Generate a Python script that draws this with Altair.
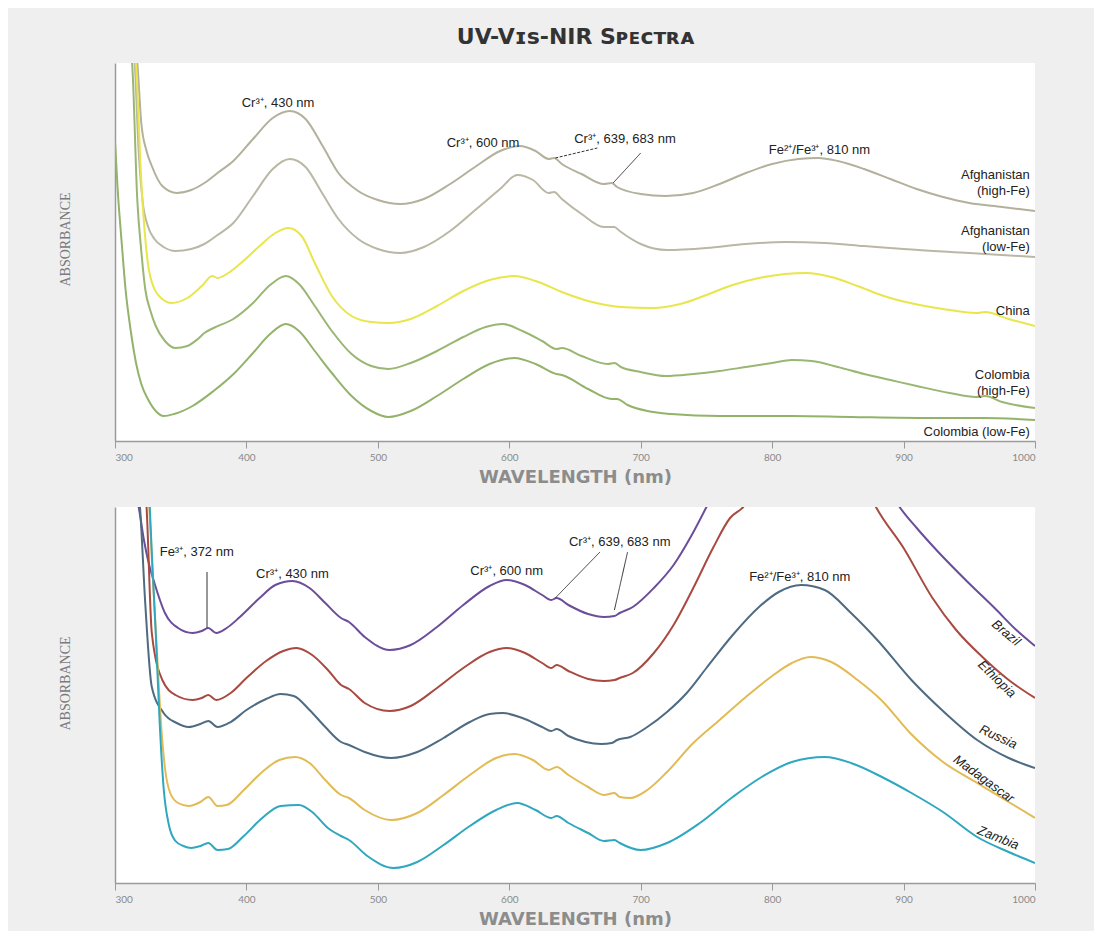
import altair as alt
import pandas as pd

TICKS = [300, 400, 500, 600, 700, 800, 900, 1000]

# ---------------- top panel (relative absorbance, arbitrary units) ----------------
TOP_NAMES = ["Afghanistan (high-Fe)", "Afghanistan (low-Fe)", "China",
             "Colombia (high-Fe)", "Colombia (low-Fe)"]
TOP_COLORS = ["#b3b19b", "#bab8a4", "#e8e64c", "#9ab673", "#93b36a"]

AHF_WL = [312, 317, 320, 324, 328, 336, 347, 358, 368, 378, 390, 405, 420, 433, 445, 458, 470, 485, 500, 517,
          535, 555, 575, 593, 608, 620, 630, 634, 640, 655, 672, 678, 682, 700, 719, 740, 760, 780, 800, 820,
          835, 850, 870, 890, 910, 930, 950, 975, 1000]
AHF_AB = [420, 378, 318, 290, 275, 255, 248, 251, 258, 268, 280, 302, 323, 330, 322, 295, 268, 250, 241, 237,
          242, 257, 275, 290, 295, 290, 282, 283, 277, 267, 257, 258, 254, 247, 245, 248, 257, 268, 277, 282,
          283, 280, 272, 262, 252, 244, 238, 234, 230]

ALF_WL = [312, 315, 318, 321, 325, 330, 337, 346, 358, 368, 378, 390, 405, 420, 433, 445, 458, 470, 485, 500,
          517, 535, 555, 575, 593, 606, 618, 630, 634, 640, 655, 672, 680, 684, 700, 720, 750, 780, 810, 840,
          870, 900, 950, 1000]
ALF_AB = [420, 378, 290, 240, 215, 202, 194, 190, 192, 197, 206, 218, 245, 272, 282, 274, 247, 222, 202, 192,
          188, 194, 210, 232, 252, 266, 261, 248, 249, 242, 227, 214, 214, 210, 197, 191, 193, 197, 199, 198,
          195, 192, 188, 184]

CH_WL = [312, 316, 320, 325, 330, 336, 343, 355, 366, 374, 378, 385, 395, 410, 422, 432, 442, 452, 465, 480,
         495, 508, 525, 545, 565, 585, 604, 620, 640, 660, 685, 709, 730, 750, 770, 790, 810, 826, 845, 865,
         885, 905, 930, 956, 962, 980, 1000]
CH_AB = [420, 378, 260, 178, 152, 142, 138, 143, 155, 165, 163, 167, 177, 195, 208, 213, 205, 178, 145, 125,
         119, 118, 122, 135, 150, 161, 165, 160, 149, 140, 134, 133, 137, 146, 156, 163, 167, 168, 164, 155,
         145, 138, 132, 128, 129, 122, 115]

CHF_WL = [308, 313, 317, 320, 323, 327, 331, 338, 346, 355, 363, 368, 375, 390, 405, 418, 430, 440, 452, 465,
          480, 495, 508, 525, 545, 565, 582, 595, 610, 625, 636, 640, 655, 675, 680, 685, 700, 719, 740, 760,
          780, 800, 815, 830, 850, 870, 890, 910, 935, 955, 962, 975, 1000]
CHF_AB = [420, 378, 240, 190, 152, 130, 115, 100, 93, 95, 102, 108, 113, 122, 138, 156, 165, 157, 135, 110,
          87, 75, 72, 78, 90, 104, 114, 117, 110, 100, 92, 93, 85, 77, 78, 74, 69, 65, 67, 70,
          74, 78, 81, 80, 74, 67, 61, 55, 48, 44, 45, 39, 33]

CLF_WL = [300, 302, 305, 308, 312, 316, 320, 325, 331, 337, 345, 359, 375, 391, 405, 418, 430, 440, 452, 465,
          480, 495, 508, 525, 545, 565, 585, 604, 620, 636, 640, 660, 678, 682, 690, 705, 723, 760, 815, 860,
          920, 960, 1000]
CLF_AB = [300, 252, 200, 152, 110, 78, 57, 42, 30, 25, 27, 35, 50, 68, 88, 107, 117, 110, 90, 68,
          45, 30, 24, 30, 45, 62, 77, 83, 77, 67, 66, 52, 42, 42, 36, 30, 27, 25, 25, 24,
          23, 23, 21]

TOP_WL = [AHF_WL, ALF_WL, CH_WL, CHF_WL, CLF_WL]
TOP_AB = [AHF_AB, ALF_AB, CH_AB, CHF_AB, CLF_AB]

TOP_NOTE_TEXT = ["Cr³⁺, 430 nm", "Cr³⁺, 600 nm", "Cr³⁺, 639, 683 nm", "Fe²⁺/Fe³⁺, 810 nm"]
TOP_NOTE_WL = [424, 580, 688, 836]
TOP_NOTE_AB = [338, 298, 302, 291]

TOP_LEAD_WL = [635, 679]
TOP_LEAD_AB = [283, 258]
TOP_LEAD_WL2 = [667, 700]
TOP_LEAD_AB2 = [293, 288]
TOP_LEAD_DASH = ["dash", "solid"]

TOP_LABEL_TEXT = ["Afghanistan", "(high-Fe)", "Afghanistan", "(low-Fe)", "China",
                  "Colombia", "(high-Fe)", "Colombia (low-Fe)"]
TOP_LABEL_WL = [996, 996, 996, 996, 996, 996, 996, 996]
TOP_LABEL_AB = [266, 250, 210, 194, 130, 66, 50, 9]

# ---------------- bottom panel ----------------
BOT_NAMES = ["Brazil", "Ethiopia", "Russia", "Madagascar", "Zambia"]
BOT_COLORS = ["#6b4d9a", "#a84a40", "#4f6b82", "#e2bb55", "#2ea7bf"]

BR_WL = [313, 318, 322, 326, 330, 338, 348, 359, 366, 371, 377, 385, 395, 410, 422, 435, 448, 460, 472, 478,
         490, 509, 525, 545, 565, 585, 598, 612, 625, 632, 636, 645, 660, 672, 680, 684, 694, 710, 725, 738,
         750, 760, 800, 840, 875, 885, 897, 910, 925, 948, 970, 985, 1000]
BR_AB = [400, 376, 343, 318, 300, 270, 255, 250, 252, 255, 250, 255, 266, 285, 298, 302, 295, 280, 265, 261,
         246, 233, 238, 256, 278, 297, 303, 298, 288, 283, 285, 278, 269, 266, 267, 270, 276, 295, 318, 346,
         376, 403, 470, 480, 440, 403, 376, 355, 333, 302, 274, 254, 237]

ET_WL = [320, 324, 328, 336, 346, 359, 366, 371, 377, 388, 400, 415, 428, 438, 450, 462, 472, 478, 490, 509,
         525, 545, 565, 585, 598, 612, 625, 632, 636, 645, 660, 672, 680, 684, 694, 710, 725, 740, 755, 768,
         778, 790, 830, 870, 879, 900, 922, 940, 960, 980, 1000]
ET_AB = [420, 376, 250, 203, 188, 183, 185, 188, 183, 190, 205, 222, 232, 235, 228, 213, 198, 194, 180, 172,
         177, 195, 215, 231, 235, 230, 220, 215, 218, 212, 204, 202, 203, 205, 210, 230, 258, 295, 335, 365,
         376, 400, 430, 400, 376, 335, 285, 253, 226, 203, 185]

RU_WL = [314, 319, 323, 328, 337, 347, 356, 365, 371, 378, 388, 400, 415, 426, 436, 448, 460, 472, 478, 490,
         510, 530, 550, 570, 585, 595, 610, 625, 632, 636, 645, 658, 670, 678, 682, 692, 705, 720, 735, 750,
         770, 790, 805, 822, 840, 860, 880, 906, 930, 956, 980, 1000]
RU_AB = [420, 376, 280, 196, 170, 160, 156, 159, 162, 156, 161, 173, 184, 189, 187, 173, 156, 141, 138, 131,
         125, 131, 145, 161, 169, 170, 165, 156, 152, 154, 147, 141, 139, 140, 143, 146, 156, 171, 190, 215,
         248, 276, 291, 298, 293, 270, 243, 203, 172, 143, 125, 115]

MA_WL = [323, 326, 329, 332, 335, 338, 342, 348, 356, 365, 371, 378, 385, 398, 412, 425, 437, 448, 460, 472,
         478, 490, 510, 530, 550, 570, 590, 604, 618, 630, 636, 645, 660, 672, 680, 684, 692, 705, 720, 740,
         760, 780, 800, 815, 829, 845, 865, 883, 905, 930, 956, 980, 1000]
MA_AB = [420, 376, 300, 230, 160, 115, 90, 80, 77, 81, 86, 77, 78, 93, 111, 123, 126, 120, 103, 88,
         85, 73, 63, 70, 88, 108, 125, 129, 123, 113, 116, 108, 96, 88, 90, 86, 85, 93, 111, 140,
         163, 186, 207, 220, 226, 221, 203, 183, 150, 121, 100, 81, 65]

ZA_WL = [325, 328, 331, 334, 337, 341, 346, 352, 358, 365, 371, 378, 386, 398, 412, 426, 440, 450, 462, 472,
         478, 492, 512, 530, 550, 570, 590, 606, 620, 632, 636, 645, 660, 672, 680, 684, 700, 720, 745, 770,
         792, 815, 840, 860, 885, 906, 930, 956, 980, 1000]
ZA_AB = [420, 330, 250, 160, 95, 58, 42, 37, 35, 37, 40, 33, 34, 47, 65, 77, 78, 71, 55, 47,
         43, 27, 15, 21, 38, 57, 73, 80, 73, 65, 67, 60, 50, 42, 43, 40, 33, 40, 60, 86,
         106, 121, 126, 120, 105, 90, 71, 46, 31, 20]

BOT_WL = [BR_WL, ET_WL, RU_WL, MA_WL, ZA_WL]
BOT_AB = [BR_AB, ET_AB, RU_AB, MA_AB, ZA_AB]

BOT_NOTE_TEXT = ["Fe³⁺, 372 nm", "Cr³⁺, 430 nm", "Cr³⁺, 600 nm", "Cr³⁺, 639, 683 nm", "Fe²⁺/Fe³⁺, 810 nm"]
BOT_NOTE_WL = [334, 435, 598, 684, 821]
BOT_NOTE_AB = [331, 309, 312, 341, 306]
BOT_NOTE_ALIGN = ["left", "center", "center", "center", "center"]

BOT_LEAD_WL = [370, 635, 680]
BOT_LEAD_AB = [255, 285, 273]
BOT_LEAD_WL2 = [370, 669, 690]
BOT_LEAD_AB2 = [311, 331, 331]

BOT_LABEL_TEXT = ["Brazil", "Ethiopia", "Russia", "Madagascar", "Zambia"]
BOT_LABEL_WL = [978, 971, 972, 961, 972]
BOT_LABEL_AB = [250, 204, 146, 104, 45]
BOT_LABEL_ANGLE = [40, 44, 25, 36, 22]


def long_df(names, wls, abss):
    rows = []
    for n, w, a in zip(names, wls, abss):
        for x, y in zip(w, a):
            rows.append({"series": n, "nm": x, "abs": y})
    return pd.DataFrame(rows)


xscale = alt.Scale(domain=[300, 1000], nice=False, zero=False)
xaxis = alt.Axis(values=TICKS, format="d", title="WAVELENGTH (nm)", grid=False,
                 domainColor="#9a9a9a", domainWidth=1.5, tickColor="#9a9a9a", tickSize=7, tickWidth=1,
                 labelColor="#8a8a8a", labelFont="Lato", labelFontSize=10, labelPadding=4,
                 titleFont="DejaVu Sans", titleFontSize=18, titleFontWeight="bold", titleColor="#8c8c8c",
                 titlePadding=6)
yaxis = alt.Axis(title="ABSORBANCE", labels=False, ticks=False, grid=False,
                 domainColor="#9a9a9a", domainWidth=1.5,
                 titleFont="Liberation Serif", titleFontSize=14, titleFontWeight="normal",
                 titleColor="#7a7a7a", titleX=-50, titleY=176, titleAlign="center",
                 titleBaseline="middle", titleAngle=270)


def panel(names, colors, wls, abss, ymax, notes, leads, labels, height):
    X = alt.X("nm:Q", scale=xscale, axis=xaxis)
    Y = alt.Y("abs:Q", scale=alt.Scale(domain=[0, ymax], nice=False, zero=True), axis=yaxis)
    df = long_df(names, wls, abss)
    lines = alt.Chart(df).mark_line(clip=True, interpolate="monotone", strokeWidth=2).encode(
        x=X, y=Y,
        color=alt.Color("series:N", scale=alt.Scale(domain=names, range=colors), legend=None),
    )
    layers = [lines]
    for nd in notes:
        layers.append(alt.Chart(nd["df"]).mark_text(font="Liberation Sans", fontSize=13, color="#222",
                                                    align=nd["align"], baseline="middle").encode(
            x=X, y=Y, text="text:N"))
    for ld in leads:
        m = alt.Chart(ld["df"]).mark_rule(color="#333", strokeWidth=1, strokeDash=ld["dash"])
        layers.append(m.encode(x=X, x2="nm2:Q", y=Y, y2="abs2:Q"))
    layers.append(labels)
    return alt.layer(*layers).properties(width=920, height=height)


# top panel pieces
top_notes = [{"df": pd.DataFrame({"nm": TOP_NOTE_WL, "abs": TOP_NOTE_AB, "text": TOP_NOTE_TEXT}),
              "align": "center"}]
top_leads = []
for i in range(len(TOP_LEAD_WL)):
    top_leads.append({"df": pd.DataFrame({"nm": [TOP_LEAD_WL[i]], "abs": [TOP_LEAD_AB[i]],
                                          "nm2": [TOP_LEAD_WL2[i]], "abs2": [TOP_LEAD_AB2[i]]}),
                      "dash": [3, 1.5] if TOP_LEAD_DASH[i] == "dash" else [1, 0]})
top_labels = alt.Chart(pd.DataFrame({"nm": TOP_LABEL_WL, "abs": TOP_LABEL_AB, "text": TOP_LABEL_TEXT})).mark_text(
    font="Liberation Sans", fontSize=13, color="#222", align="right", baseline="middle").encode(
    x=alt.X("nm:Q", scale=xscale, axis=xaxis),
    y=alt.Y("abs:Q", scale=alt.Scale(domain=[0, 378], nice=False), axis=yaxis),
    text="text:N")

top = panel(TOP_NAMES, TOP_COLORS, TOP_WL, TOP_AB, 378, top_notes, top_leads, top_labels, 378)

# bottom panel pieces
bot_notes = []
for al in ["left", "center"]:
    idx = [i for i, a in enumerate(BOT_NOTE_ALIGN) if a == al]
    bot_notes.append({"df": pd.DataFrame({"nm": [BOT_NOTE_WL[i] for i in idx],
                                          "abs": [BOT_NOTE_AB[i] for i in idx],
                                          "text": [BOT_NOTE_TEXT[i] for i in idx]}), "align": al})
bot_leads = [{"df": pd.DataFrame({"nm": BOT_LEAD_WL, "abs": BOT_LEAD_AB,
                                  "nm2": BOT_LEAD_WL2, "abs2": BOT_LEAD_AB2}), "dash": [1, 0]}]
bot_labels = alt.Chart(pd.DataFrame({"nm": BOT_LABEL_WL, "abs": BOT_LABEL_AB, "text": BOT_LABEL_TEXT,
                                     "angle": BOT_LABEL_ANGLE})).mark_text(
    font="Liberation Sans", fontSize=13, fontStyle="italic", color="#222", align="center",
    baseline="middle").encode(
    x=alt.X("nm:Q", scale=xscale, axis=xaxis),
    y=alt.Y("abs:Q", scale=alt.Scale(domain=[0, 376], nice=False), axis=yaxis),
    text="text:N",
    angle=alt.Angle("angle:Q", scale=None))

bottom = panel(BOT_NAMES, BOT_COLORS, BOT_WL, BOT_AB, 376, bot_notes, bot_leads, bot_labels, 376)

chart = alt.vconcat(top, bottom, spacing=21).resolve_scale(color="independent").properties(
    title=alt.TitleParams("UV-Vɪꜱ-NIR   Sᴘᴇᴄᴛʀᴀ", font="DejaVu Sans", fontSize=22, fontWeight="bold",
                          color="#333333", anchor="middle", offset=14, dx=29),
    padding={"left": 50, "top": 18, "right": 58, "bottom": 3},
).configure(background="#efefef").configure_view(fill="white", stroke=None)

chart.save("out.html", embed_options={"renderer": "svg", "actions": False})
